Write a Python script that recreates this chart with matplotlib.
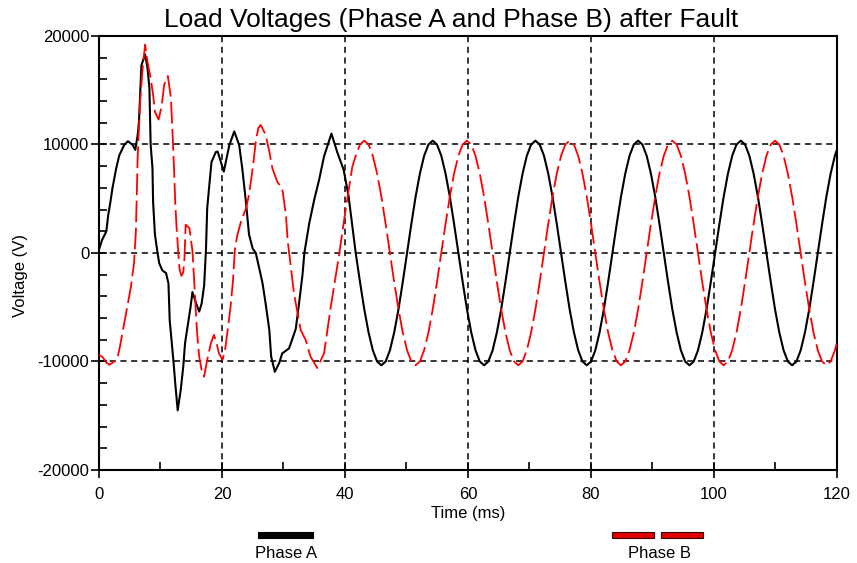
import matplotlib
matplotlib.use('Agg')
import matplotlib.pyplot as plt
from matplotlib.patches import Rectangle

plt.rcParams['font.family'] = ['Liberation Sans', 'DejaVu Sans']
plt.rcParams['axes.unicode_minus'] = False

# 故障后的暂态段 (ms, V)
fault_t_a = [0.0, 0.5, 1.2, 1.5, 1.8, 2.2, 2.8, 3.3, 4.1, 4.7, 5.5, 5.9, 6.3, 6.5, 6.7, 6.9,
             7.5, 7.9, 8.2, 8.3, 8.4, 8.7, 8.8, 9.1, 9.5, 9.8, 10.3, 10.9, 11.3, 11.5, 12.1,
             12.4, 12.8, 13.3, 13.7, 14.0, 14.4, 14.9, 15.2, 15.8, 16.3, 16.7, 17.1, 17.4,
             17.6, 18.0, 18.3, 19.0, 19.3, 20.3, 21.2, 22.0, 22.8, 23.3, 23.9, 24.4, 25.0,
             25.5, 26.0, 26.6, 27.1, 27.7, 28.0, 28.6, 29.3, 29.8, 30.9, 31.4, 32.0, 32.5,
             33.1, 33.4, 34.2, 35.0, 35.8, 36.6, 37.8, 38.8, 39.8, 40.6]
fault_v_a = [300, 1200, 2000, 3500, 4500, 6000, 7800, 9000, 9950, 10300, 9950, 9500, 10900,
             12100, 14600, 17300, 18300, 17000, 15200, 12400, 10000, 7800, 4700, 1700, 100,
             -950, -1600, -1850, -2800, -6200, -9900, -12000, -14500, -12600, -10500, -8300,
             -6800, -4950, -3600, -4650, -5400, -4650, -3000, 300, 4150, 6600, 8400, 9300,
             9350, 7500, 9950, 11200, 9950, 7800, 4700, 1700, 400, 0, -1250, -2800, -4650,
             -7100, -9550, -10950, -10150, -9250, -8800, -8000, -7000, -4800, -2000, 0, 2750,
             4900, 6750, 8900, 11000, 9200, 7650, 5200]

fault_t_b = [0.0, 0.6, 1.2, 1.7, 2.5, 3.0, 3.4, 4.1, 4.7, 5.2, 5.7, 6.0, 6.3, 6.7, 7.1, 7.5,
             7.9, 8.4, 8.8, 9.1, 9.7, 10.2, 10.6, 11.2, 11.7, 12.0, 12.2, 12.4, 12.6, 12.9,
             13.1, 13.4, 13.7, 13.9, 14.1, 14.7, 15.2, 15.6, 15.8, 16.0, 16.3, 16.7, 17.1,
             17.6, 18.2, 18.7, 19.2, 19.5, 20.1, 20.5, 21.0, 21.4, 21.8, 22.1, 22.5, 23.1,
             23.9, 24.4, 25.0, 25.5, 25.9, 26.3, 27.1, 27.7, 28.2, 29.0, 29.8, 30.4, 30.7,
             31.2, 31.7, 32.3, 32.8, 33.6, 34.4, 35.5, 36.6, 37.7, 39.0, 40.1, 41.2]
fault_v_b = [-9400, -9600, -10100, -10300, -10000, -9700, -8650, -6500, -4650, -3100, -950,
             2000, 9000, 14000, 17000, 19200, 17600, 16100, 14600, 13000, 12300, 13600,
             15500, 16300, 14300, 10600, 7800, 4700, 2500, 0, -1500, -2100, -1800, -500,
             2600, 2300, 200, -3700, -5900, -7700, -9550, -10800, -11400, -9850, -8300,
             -7550, -8500, -9250, -9850, -8950, -6800, -4950, -2500, 300, 1650, 2900, 4100,
             5350, 7800, 10250, 11500, 11800, 10900, 9350, 7800, 6550, 5950, 3500, 1050,
             -1250, -3700, -5550, -7100, -8000, -9550, -10600, -9250, -4950, -350, 3950, 7950]

# 稳态段，两相共用时间轴
steady_t = [41.75, 42.45, 43.14, 43.84, 44.53, 45.23, 45.93, 46.62, 47.32, 48.01, 48.71, 49.40,
            50.10, 50.80, 51.49, 52.19, 52.88, 53.58, 54.28, 54.97, 55.67, 56.36, 57.06, 57.75,
            58.45, 59.15, 59.84, 60.54, 61.23, 61.93, 62.63, 63.32, 64.02, 64.71, 65.41, 66.10,
            66.80, 67.50, 68.19, 68.89, 69.58, 70.28, 70.98, 71.67, 72.37, 73.06, 73.76, 74.45,
            75.15, 75.85, 76.54, 77.24, 77.93, 78.63, 79.33, 80.02, 80.72, 81.41, 82.11, 82.80,
            83.50, 84.20, 84.89, 85.59, 86.28, 86.98, 87.68, 88.37, 89.07, 89.76, 90.46, 91.15,
            91.85, 92.55, 93.24, 93.94, 94.63, 95.33, 96.03, 96.72, 97.42, 98.11, 98.81, 99.50,
            100.20, 100.90, 101.59, 102.29, 102.98, 103.68, 104.38, 105.07, 105.77, 106.46,
            107.16, 107.85, 108.55, 109.25, 109.94, 110.64, 111.33, 112.03, 112.73, 113.42,
            114.12, 114.81, 115.51, 116.20, 116.90, 117.60, 118.29, 118.99, 119.68, 120.0]
steady_v_a = [0, -2680, -5180, -7320, -8960, -10000, -10350, -10000, -8960, -7320, -5180, -2680,
              0, 2680, 5180, 7320, 8960, 10000, 10350, 10000, 8960, 7320, 5180, 2680,
              0, -2680, -5180, -7320, -8960, -10000, -10350, -10000, -8960, -7320, -5180, -2680,
              0, 2680, 5180, 7320, 8960, 10000, 10350, 10000, 8960, 7320, 5180, 2680,
              0, -2680, -5180, -7320, -8960, -10000, -10350, -10000, -8960, -7320, -5180, -2680,
              0, 2680, 5180, 7320, 8960, 10000, 10350, 10000, 8960, 7320, 5180, 2680,
              0, -2680, -5180, -7320, -8960, -10000, -10350, -10000, -8960, -7320, -5180, -2680,
              0, 2680, 5180, 7320, 8960, 10000, 10350, 10000, 8960, 7320, 5180, 2680,
              0, -2680, -5180, -7320, -8960, -10000, -10350, -10000, -8960, -7320, -5180, -2680,
              0, 2680, 5180, 7320, 8960, 9500]
steady_v_b = [8960, 10000, 10350, 10000, 8960, 7320, 5180, 2680, 0, -2680, -5180, -7320,
              -8960, -10000, -10350, -10000, -8960, -7320, -5180, -2680, 0, 2680, 5180, 7320,
              8960, 10000, 10350, 10000, 8960, 7320, 5180, 2680, 0, -2680, -5180, -7320,
              -8960, -10000, -10350, -10000, -8960, -7320, -5180, -2680, 0, 2680, 5180, 7320,
              8960, 10000, 10350, 10000, 8960, 7320, 5180, 2680, 0, -2680, -5180, -7320,
              -8960, -10000, -10350, -10000, -8960, -7320, -5180, -2680, 0, 2680, 5180, 7320,
              8960, 10000, 10350, 10000, 8960, 7320, 5180, 2680, 0, -2680, -5180, -7320,
              -8960, -10000, -10350, -10000, -8960, -7320, -5180, -2680, 0, 2680, 5180, 7320,
              8960, 10000, 10350, 10000, 8960, 7320, 5180, 2680, 0, -2680, -5180, -7320,
              -8960, -10000, -10350, -10000, -8960, -8300]

t_a = fault_t_a + steady_t
v_a = fault_v_a + steady_v_a
t_b = fault_t_b + steady_t
v_b = fault_v_b + steady_v_b

x_ticks = [0, 20, 40, 60, 80, 100, 120]
y_ticks = [-20000, -10000, 0, 10000, 20000]

fig = plt.figure(figsize=(8.57, 5.63), dpi=100)
ax = fig.add_axes([0.1155, 0.1652, 0.861, 0.7709])

ax.plot(t_a, v_a, color='black', lw=1.5, zorder=3)
ax.plot(t_b, v_b, color='red', lw=1.3, dashes=(12, 3), zorder=3)

ax.set_xlim(0, 120)
ax.set_ylim(-20000, 20000)
ax.set_xticks(x_ticks)
ax.set_yticks(y_ticks)
ax.set_xticks(range(10, 120, 20), minor=True)
ax.set_yticks(range(-18000, 20000, 2000), minor=True)
ax.tick_params(which='major', direction='inout', length=12, width=1.2, labelsize=12)
ax.tick_params(axis='x', which='major', pad=6)
ax.tick_params(axis='y', which='major', pad=1)
ax.tick_params(which='minor', direction='in', length=6, width=1.2)
ax.grid(True, which='major', color='black', linestyle=(0, (4, 3)), linewidth=1.1)
for sp in ax.spines.values():
    sp.set_linewidth(1.5)

ax.set_xlabel('Time (ms)', fontsize=12, labelpad=3)
ax.set_ylabel('Voltage (V)', fontsize=12)
ax.yaxis.set_label_coords(-0.096, 0.449)

fig.text(0.526, 0.964, 'Load Voltages (Phase A and Phase B) after Fault',
         fontsize=19, ha='center', va='center')

# 图例画在坐标轴下方
fig.add_artist(Rectangle((0.301, 0.045), 0.0642, 0.0098, transform=fig.transFigure,
                         facecolor='black', edgecolor='black', lw=0.8))
for x0 in (0.7141, 0.7713):
    fig.add_artist(Rectangle((x0, 0.045), 0.0495, 0.0098, transform=fig.transFigure,
                             facecolor='#e00000', edgecolor='#400000', lw=0.8))
fig.text(0.3337, 0.016, 'Phase A', fontsize=12, ha='center', va='center')
fig.text(0.770, 0.016, 'Phase B', fontsize=12, ha='center', va='center')

fig.savefig('out.png', dpi=100)
